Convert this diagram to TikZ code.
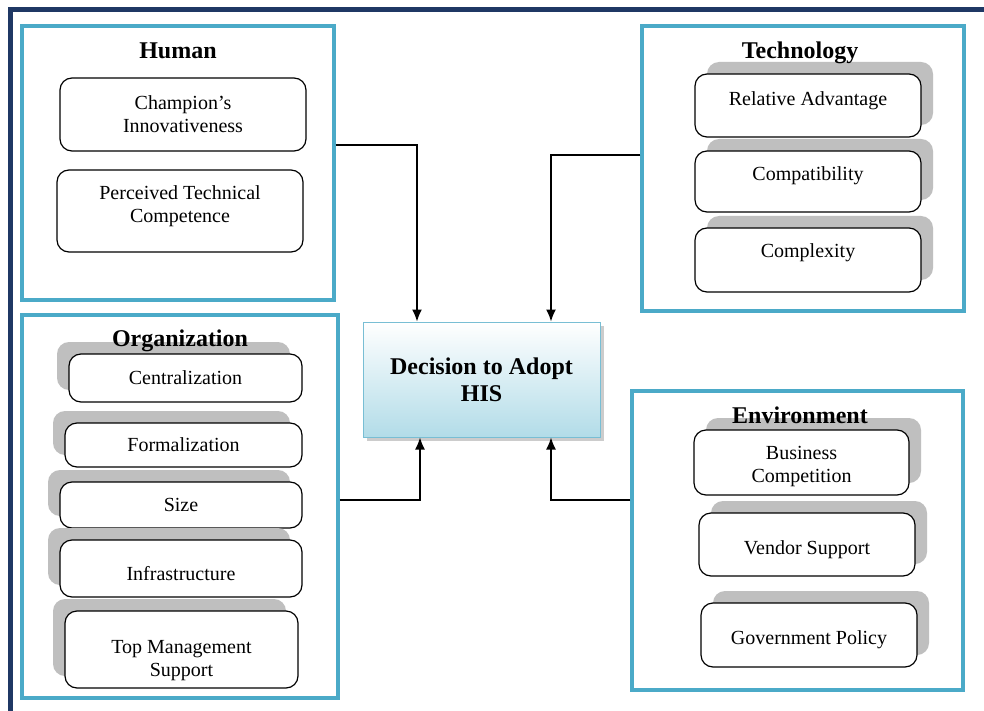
\documentclass[tikz,border=0pt]{standalone}
\usepackage{fontspec}
\setmainfont{Liberation Serif}
\usetikzlibrary{positioning,calc,shadows,arrows.meta}

\definecolor{navy}{RGB}{31,56,100}
\definecolor{grpblue}{RGB}{75,170,200}
\definecolor{decblue}{RGB}{178,220,232}
\definecolor{decline}{RGB}{120,190,212}

% struts to move a label up or down inside its box
\newcommand\pushup[1]{\rule[-#1]{0pt}{#1}}
\newcommand\pushdown[1]{\rule{0pt}{#1}}

\tikzset{
  group/.style={draw=grpblue,line width=1.6pt,fill=white},
  item/.style={draw=black,line width=0.6pt,rounded corners=6pt,fill=white,align=center,
    font=\fontsize{10}{11.5}\selectfont},
  rshadow/.style={general shadow={fill=black!25,shadow xshift=6pt,shadow yshift=6pt}},
  lshadow/.style={general shadow={fill=black!25,shadow xshift=-6pt,shadow yshift=6pt}},
  title/.style={font=\fontsize{12}{14}\selectfont\bfseries},
  arr/.style={line width=0.7pt,-{Latex[length=6pt,width=5pt]}}
}

\begin{document}
\begin{tikzpicture}[x=0.5pt,y=-0.5pt]

\useasboundingbox (0,0) rectangle (984,711);

% frame
\draw[navy,line width=2.5pt] (10,711) -- (10,10) -- (984,10);

% the four groups
\node[group,minimum width=156pt,minimum height=137pt] (human) at (178,163) {};
\node[group,minimum width=158pt,minimum height=191.5pt] (org) at (180,506.5) {};
\node[group,minimum width=161pt,minimum height=142.5pt] (tech) at (803,168.5) {};
\node[group,minimum width=165.5pt,minimum height=149.5pt] (env) at (797.5,540.5) {};

% Human
\node[item,minimum width=123pt,minimum height=36.5pt] (champ) at (183,114.5) {Champion's\\Innovativeness};
\node[item,minimum width=123pt,minimum height=41pt] (ptc) at (180,211) {Perceived Technical\\Competence\pushup{7.2pt}};

% Technology
\node[item,rshadow,minimum width=113pt,minimum height=31.5pt] (reladv) at (808,105.5) {Relative Advantage\pushup{7.2pt}};
\node[item,rshadow,minimum width=113pt,minimum height=30.5pt] (compat) at (808,181.5) {Compatibility\pushup{8.2pt}};
\node[item,rshadow,minimum width=113pt,minimum height=32pt] (cmplx) at (808,260) {Complexity\pushup{9.2pt}};

% Organization
\node[item,lshadow,minimum width=116.5pt,minimum height=24pt] (central) at (185.5,378) {Centralization};
\node[item,lshadow,minimum width=118.5pt,minimum height=22pt] (formal) at (183.5,445) {Formalization};
\node[item,lshadow,minimum width=121pt,minimum height=23pt] (size) at (181,505) {Size};
\node[item,lshadow,minimum width=121pt,minimum height=28.5pt] (infra) at (181,568.5) {\pushdown{11.9pt}Infrastructure};
\node[item,lshadow,minimum width=116.5pt,minimum height=38.5pt] (topmgmt) at (181.5,649.5) {\pushdown{17.4pt}Top Management\\Support};

% Environment
\node[item,rshadow,minimum width=107.5pt,minimum height=32.5pt] (busc) at (801.5,462.5) {\pushdown{10.4pt}Business\\Competition};
\node[item,rshadow,minimum width=108pt,minimum height=31.5pt] (vendor) at (807,544.5) {\pushdown{11.9pt}Vendor Support};
\node[item,rshadow,minimum width=108pt,minimum height=32pt] (govpol) at (809,635) {\pushdown{11.9pt}Government Policy};

% titles on top of the shadows
\node[title] (humant) at (178,51) {Human};
\node[title] (techt) at (800,53) {Technology};
\node[title] (orgt) at (180,341) {Organization};
\node[title] (envt) at (800,415) {Environment};

% centre node
\node[draw=decline,line width=0.5pt,top color=white,bottom color=decblue,
  drop shadow={shadow xshift=2pt,shadow yshift=-2pt,fill=black!40},
  minimum width=118.5pt,minimum height=57.5pt,align=center,
  font=\fontsize{12}{13.5}\selectfont\bfseries] (dec) at (481.5,379.5) {Decision to Adopt\\HIS};

% connectors
\draw[arr] ([yshift=9pt]human.east) -| ([xshift=-32.25pt]dec.north);
\draw[arr] ([yshift=6.75pt]tech.west) -| ([xshift=34.75pt]dec.north);
\draw[arr] ([yshift=3.25pt]org.east) -| ([xshift=-30.75pt]dec.south);
\draw[arr] ([yshift=20.25pt]env.west) -| ([xshift=34.75pt]dec.south);

\end{tikzpicture}
\end{document}
